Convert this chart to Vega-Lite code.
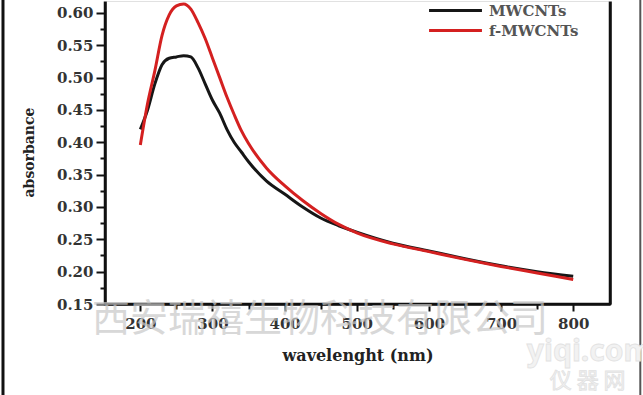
{
  "$schema": "https://vega.github.io/schema/vega-lite/v6.json",
  "width": 505,
  "height": 304,
  "autosize": "none",
  "padding": {"left": 105, "top": 0, "right": 33, "bottom": 91},
  "background": "white",
  "config": {"view": {"stroke": "#111", "strokeWidth": 2.5}},
  "datasets": {
    "spectra": [
      {"nm": 200, "abs": 0.42, "sample": "MWCNTs"},
      {"nm": 210, "abs": 0.45, "sample": "MWCNTs"},
      {"nm": 220, "abs": 0.49, "sample": "MWCNTs"},
      {"nm": 230, "abs": 0.52, "sample": "MWCNTs"},
      {"nm": 240, "abs": 0.53, "sample": "MWCNTs"},
      {"nm": 250, "abs": 0.532, "sample": "MWCNTs"},
      {"nm": 260, "abs": 0.534, "sample": "MWCNTs"},
      {"nm": 270, "abs": 0.532, "sample": "MWCNTs"},
      {"nm": 280, "abs": 0.515, "sample": "MWCNTs"},
      {"nm": 290, "abs": 0.49, "sample": "MWCNTs"},
      {"nm": 300, "abs": 0.465, "sample": "MWCNTs"},
      {"nm": 310, "abs": 0.445, "sample": "MWCNTs"},
      {"nm": 320, "abs": 0.42, "sample": "MWCNTs"},
      {"nm": 330, "abs": 0.4, "sample": "MWCNTs"},
      {"nm": 340, "abs": 0.385, "sample": "MWCNTs"},
      {"nm": 350, "abs": 0.37, "sample": "MWCNTs"},
      {"nm": 375, "abs": 0.34, "sample": "MWCNTs"},
      {"nm": 400, "abs": 0.32, "sample": "MWCNTs"},
      {"nm": 425, "abs": 0.3, "sample": "MWCNTs"},
      {"nm": 450, "abs": 0.283, "sample": "MWCNTs"},
      {"nm": 475, "abs": 0.271, "sample": "MWCNTs"},
      {"nm": 500, "abs": 0.261, "sample": "MWCNTs"},
      {"nm": 550, "abs": 0.244, "sample": "MWCNTs"},
      {"nm": 600, "abs": 0.232, "sample": "MWCNTs"},
      {"nm": 650, "abs": 0.22, "sample": "MWCNTs"},
      {"nm": 700, "abs": 0.209, "sample": "MWCNTs"},
      {"nm": 750, "abs": 0.2, "sample": "MWCNTs"},
      {"nm": 800, "abs": 0.193, "sample": "MWCNTs"},
      {"nm": 200, "abs": 0.396, "sample": "f-MWCNTs"},
      {"nm": 210, "abs": 0.46, "sample": "f-MWCNTs"},
      {"nm": 220, "abs": 0.51, "sample": "f-MWCNTs"},
      {"nm": 230, "abs": 0.565, "sample": "f-MWCNTs"},
      {"nm": 240, "abs": 0.597, "sample": "f-MWCNTs"},
      {"nm": 250, "abs": 0.611, "sample": "f-MWCNTs"},
      {"nm": 260, "abs": 0.614, "sample": "f-MWCNTs"},
      {"nm": 270, "abs": 0.606, "sample": "f-MWCNTs"},
      {"nm": 280, "abs": 0.585, "sample": "f-MWCNTs"},
      {"nm": 290, "abs": 0.56, "sample": "f-MWCNTs"},
      {"nm": 300, "abs": 0.53, "sample": "f-MWCNTs"},
      {"nm": 310, "abs": 0.5, "sample": "f-MWCNTs"},
      {"nm": 320, "abs": 0.47, "sample": "f-MWCNTs"},
      {"nm": 330, "abs": 0.443, "sample": "f-MWCNTs"},
      {"nm": 340, "abs": 0.418, "sample": "f-MWCNTs"},
      {"nm": 350, "abs": 0.398, "sample": "f-MWCNTs"},
      {"nm": 375, "abs": 0.36, "sample": "f-MWCNTs"},
      {"nm": 400, "abs": 0.333, "sample": "f-MWCNTs"},
      {"nm": 425, "abs": 0.31, "sample": "f-MWCNTs"},
      {"nm": 450, "abs": 0.29, "sample": "f-MWCNTs"},
      {"nm": 475, "abs": 0.273, "sample": "f-MWCNTs"},
      {"nm": 500, "abs": 0.26, "sample": "f-MWCNTs"},
      {"nm": 550, "abs": 0.243, "sample": "f-MWCNTs"},
      {"nm": 600, "abs": 0.231, "sample": "f-MWCNTs"},
      {"nm": 650, "abs": 0.219, "sample": "f-MWCNTs"},
      {"nm": 700, "abs": 0.208, "sample": "f-MWCNTs"},
      {"nm": 750, "abs": 0.198, "sample": "f-MWCNTs"},
      {"nm": 800, "abs": 0.188, "sample": "f-MWCNTs"}
    ]
  },
  "resolve": {"axis": {"x": "independent", "y": "independent"}},
  "layer": [
    {
      "data": {"name": "spectra"},
      "mark": {"type": "line", "interpolate": "monotone", "strokeWidth": 3},
      "encoding": {
        "x": {
          "field": "nm", "type": "quantitative",
          "scale": {"domain": [151, 851], "nice": false, "zero": false},
          "axis": {
            "orient": "bottom",
            "title": "wavelenght (nm)",
            "values": [200, 300, 400, 500, 600, 700, 800],
            "format": "d",
            "labelOverlap": false,
            "labelFlush": false,
            "grid": false,
            "domainColor": "#111", "domainWidth": 2.5,
            "tickColor": "#111", "tickWidth": 2, "tickSize": 7,
            "labelPadding": 5,
            "labelFont": "DejaVu Serif", "labelFontWeight": "bold", "labelFontSize": 15, "labelColor": "#333",
            "titleFont": "DejaVu Serif", "titleFontWeight": "bold", "titleFontSize": 16, "titleColor": "#222",
            "titlePadding": 16
          }
        },
        "y": {
          "field": "abs", "type": "quantitative",
          "scale": {"domain": [0.15, 0.62], "nice": false, "zero": false},
          "axis": {
            "orient": "left",
            "title": "absorbance",
            "values": [0.15, 0.2, 0.25, 0.3, 0.35, 0.4, 0.45, 0.5, 0.55, 0.6],
            "format": ".2f",
            "labelOverlap": false,
            "labelFlush": false,
            "grid": false,
            "domainColor": "#111", "domainWidth": 2.5,
            "tickColor": "#111", "tickWidth": 2, "tickSize": 9,
            "labelPadding": 3,
            "labelFont": "DejaVu Serif", "labelFontWeight": "bold", "labelFontSize": 15, "labelColor": "#333",
            "titleFont": "DejaVu Serif", "titleFontWeight": "bold", "titleFontSize": 14, "titleColor": "#222",
            "titlePadding": 20
          }
        },
        "color": {
          "field": "sample", "type": "nominal",
          "scale": {"domain": ["MWCNTs", "f-MWCNTs"], "range": ["#161616", "#d42020"]},
          "legend": {
            "title": null,
            "orient": "none",
            "legendX": 340,
            "legendY": 0,
            "padding": 0,
            "rowPadding": 1,
            "symbolType": "M-3,0H3",
            "symbolSize": 311,
            "symbolStrokeWidth": 3,
            "labelFont": "DejaVu Serif",
            "labelFontWeight": "bold",
            "labelFontSize": 15,
            "labelColor": "#555",
            "labelOffset": 23
          }
        }
      }
    },
    {
      "data": {"name": "spectra"},
      "mark": {"type": "point", "opacity": 0},
      "encoding": {
        "x": {
          "field": "nm", "type": "quantitative",
          "axis": {"orient": "bottom", "title": null, "values": [250, 350, 450, 550, 650, 750], "labels": false, "domain": false, "grid": false, "tickColor": "#111", "tickWidth": 2, "tickSize": 5}
        },
        "y": {
          "field": "abs", "type": "quantitative",
          "axis": {"orient": "right", "title": null, "labels": false, "ticks": false, "grid": false, "domainColor": "#111", "domainWidth": 2.5}
        }
      }
    },
    {
      "data": {"name": "spectra"},
      "mark": {"type": "point", "opacity": 0},
      "encoding": {
        "x": {
          "field": "nm", "type": "quantitative",
          "axis": {"orient": "top", "title": null, "labels": false, "ticks": false, "domain": false, "grid": false}
        },
        "y": {
          "field": "abs", "type": "quantitative",
          "axis": {"orient": "left", "title": null, "values": [0.175, 0.225, 0.275, 0.325, 0.375, 0.425, 0.475, 0.525, 0.575], "labels": false, "domain": false, "grid": false, "tickColor": "#111", "tickWidth": 2, "tickSize": 5}
        }
      }
    },
    {
      "data": {"values": [{}]},
      "mark": {"type": "rule", "color": "white", "strokeWidth": 3},
      "encoding": {
        "x": {"datum": 140, "type": "quantitative", "axis": null},
        "x2": {"datum": 860},
        "y": {"datum": 0.62, "type": "quantitative", "axis": null}
      }
    },
    {
      "data": {"values": [{}]},
      "mark": {"type": "rule", "color": "#111", "strokeWidth": 3},
      "encoding": {
        "x": {"datum": 9.6, "type": "quantitative", "axis": null},
        "y": {"datum": 0.62, "type": "quantitative", "axis": null},
        "y2": {"datum": 0.0}
      }
    },
    {
      "data": {"values": [{}]},
      "mark": {"type": "rule", "color": "#555", "strokeWidth": 2},
      "encoding": {
        "x": {"datum": 893, "type": "quantitative", "axis": null},
        "y": {"datum": 0.62, "type": "quantitative", "axis": null},
        "y2": {"datum": 0.0}
      }
    },
    {
      "data": {"values": [{}]},
      "mark": {"type": "text", "text": "西安瑞禧生物科技有限公司", "font": "Noto Sans CJK SC", "fontSize": 38, "color": "#c8c8c8", "opacity": 0.7, "align": "center", "baseline": "middle"},
      "encoding": {
        "x": {"datum": 449, "type": "quantitative", "axis": null},
        "y": {"datum": 0.1253, "type": "quantitative", "axis": null}
      }
    },
    {
      "data": {"values": [{}]},
      "mark": {"type": "text", "text": "yiqi.com", "font": "Noto Sans", "fontWeight": "bold", "fontSize": 30, "color": "#f2f2f2", "stroke": "#e2e2e2", "strokeWidth": 0.8, "align": "center", "baseline": "middle"},
      "encoding": {
        "x": {"datum": 823, "type": "quantitative", "axis": null},
        "y": {"datum": 0.076, "type": "quantitative", "axis": null}
      }
    },
    {
      "data": {"values": [{}]},
      "mark": {"type": "text", "text": "仪  器  网", "font": "Noto Sans CJK SC", "fontSize": 22, "color": "#f2f2f2", "stroke": "#e2e2e2", "strokeWidth": 0.8, "align": "center", "baseline": "middle"},
      "encoding": {
        "x": {"datum": 820, "type": "quantitative", "axis": null},
        "y": {"datum": 0.031, "type": "quantitative", "axis": null}
      }
    }
  ]
}
